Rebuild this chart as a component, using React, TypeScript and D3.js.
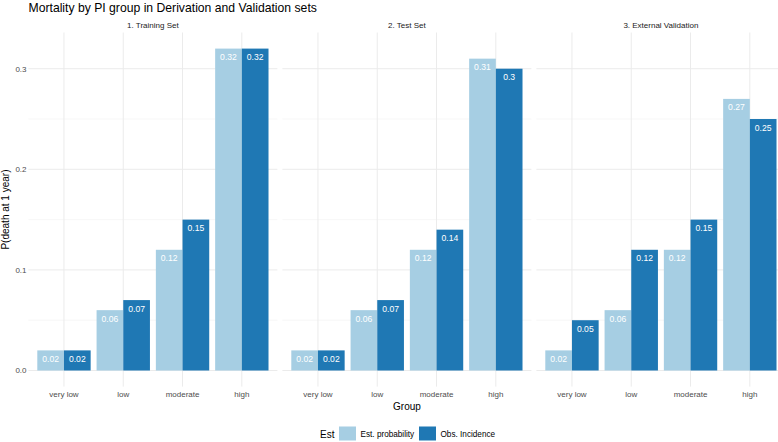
import React from "react";
import * as d3 from "d3";

const panels = ["1. Training Set", "2. Test Set", "3. External Validation"];
const groups = ["very low", "low", "moderate", "high"];
const seriesNames = ["Est. probability", "Obs. Incidence"];
const estProb = [
  [0.02, 0.06, 0.12, 0.32],
  [0.02, 0.06, 0.12, 0.31],
  [0.02, 0.06, 0.12, 0.27],
];
const obsInc = [
  [0.02, 0.07, 0.15, 0.32],
  [0.02, 0.07, 0.14, 0.3],
  [0.05, 0.12, 0.15, 0.25],
];
const yTicks = [0, 0.1, 0.2, 0.3];
const yMinor = [0.05, 0.15, 0.25];
const colors = ["#A6CEE3", "#1F78B4"];

const W = 778;
const H = 442;
const FONT = "'Liberation Sans', Arial, Helvetica, sans-serif";

export default function App() {
  const panelLeft0 = 28.4;
  const panelW = 249;
  const gap = 5;
  const y = d3.scaleLinear().domain([-0.016, 0.336]).range([386.6, 32.5]);
  const yTop = y(0.336);
  const yBot = y(-0.016);
  const fmt = (v: number) => String(+v.toFixed(2));

  return (
    <svg
      width={W}
      height={H}
      style={{ position: "absolute", left: 0, top: 0, background: "#fff" }}
      fontFamily={FONT}
    >
      <text x={28.5} y={12} fontSize={12.2} fill="#000">
        Mortality by PI group in Derivation and Validation sets
      </text>
      {/* y axis title */}
      <text
        transform={`translate(9,${(yTop + yBot) / 2}) rotate(-90)`}
        textAnchor="middle"
        fontSize={10}
        fill="#000"
      >
        P(death at 1 year)
      </text>
      {yTicks.map((t) => (
        <text
          key={t}
          x={26.5}
          y={y(t)}
          dy="0.35em"
          textAnchor="end"
          fontSize={8}
          fill="#4D4D4D"
        >
          {t.toFixed(1)}
        </text>
      ))}
      {panels.map((p, pi) => {
        const left = panelLeft0 + pi * (panelW + gap);
        const x = d3
          .scalePoint<string>()
          .domain(groups)
          .range([left, left + panelW])
          .padding(0.6);
        const step = x.step();
        const bw = step * 0.45;
        const series = [estProb[pi], obsInc[pi]];
        return (
          <g key={p}>
            {yMinor.map((t) => (
              <line
                key={"mn" + t}
                x1={left}
                x2={left + panelW}
                y1={y(t)}
                y2={y(t)}
                stroke="#F2F2F2"
                strokeWidth={0.6}
              />
            ))}
            {yTicks.map((t) => (
              <line
                key={"mj" + t}
                x1={left}
                x2={left + panelW}
                y1={y(t)}
                y2={y(t)}
                stroke="#EBEBEB"
                strokeWidth={1}
              />
            ))}
            {groups.map((g) => (
              <line
                key={"v" + g}
                x1={x(g)}
                x2={x(g)}
                y1={yTop}
                y2={yBot}
                stroke="#EBEBEB"
                strokeWidth={1}
              />
            ))}
            <text
              x={left + panelW / 2}
              y={28}
              textAnchor="middle"
              fontSize={8}
              fill="#1A1A1A"
            >
              {p}
            </text>
            {series.map((vals, si) =>
              groups.map((g, gi) => {
                const cx = x(g)!;
                const bx = si === 0 ? cx - bw : cx;
                const v = vals[gi];
                return (
                  <g key={si + "-" + g}>
                    <rect
                      x={bx}
                      y={y(v)}
                      width={bw}
                      height={y(0) - y(v)}
                      fill={colors[si]}
                    />
                    <text
                      x={bx + bw / 2}
                      y={y(v) + 11.5}
                      textAnchor="middle"
                      fontSize={8.6}
                      fill="#fff"
                    >
                      {fmt(v)}
                    </text>
                  </g>
                );
              })
            )}
            {groups.map((g) => (
              <text
                key={"xl" + g}
                x={x(g)}
                y={397}
                textAnchor="middle"
                fontSize={8}
                fill="#4D4D4D"
              >
                {g}
              </text>
            ))}
          </g>
        );
      })}
      <text x={407} y={410} textAnchor="middle" fontSize={10} fill="#000">
        Group
      </text>
      {/* legend */}
      <text x={320} y={437.5} fontSize={10} fill="#000">
        Est
      </text>
      {seriesNames.map((s, i) => {
        const kx = i === 0 ? 339 : 419;
        return (
          <g key={s}>
            <rect x={kx} y={426.5} width={17} height={14} fill={colors[i]} />
            <text x={kx + 21.5} y={437} fontSize={8.2} fill="#000">
              {s}
            </text>
          </g>
        );
      })}
    </svg>
  );
}
